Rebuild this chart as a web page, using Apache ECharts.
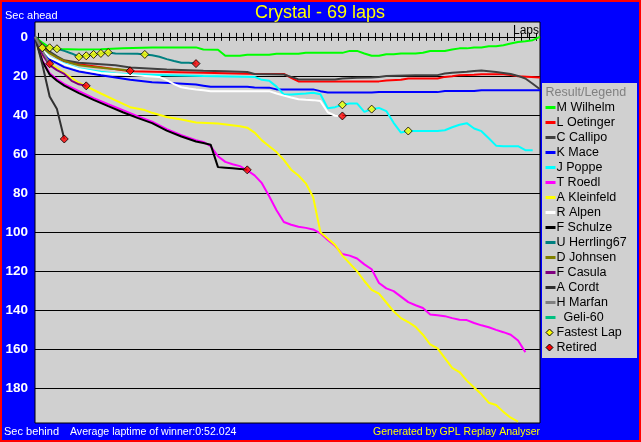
<!DOCTYPE html>
<html><head><meta charset="utf-8">
<script src="https://cdn.jsdelivr.net/npm/echarts@6/dist/echarts.min.js"></script>
<style>html,body{margin:0;padding:0;background:#0000ff;}#c{width:641px;height:442px;}</style>
</head><body><div id="c"></div>
<script>
const totalLaps = 69;
const yTicks = [0, 20, 40, 60, 80, 100, 120, 140, 160, 180];
const gridValues = [20, 40, 60, 80, 100, 120, 140, 160, 180];
const lapTicks = Array.from({length: 69}, (_, i) => i + 0.5);

const names = ['M Wilhelm','L Oetinger','C Callipo','K Mace','J Poppe','T Roedl','A Kleinfeld','R Alpen','F Schulze','U Herrling67','D Johnsen','F Casula','A Cordt','H Marfan','  Geli-60'];
const colors = ['#00ff00','#ff0000','#404040','#0000ff','#00ffff','#ff00ff','#ffff00','#ffffff','#000000','#008080','#808000','#800080','#303030','#808080','#00c080'];

const wilhelm = [[0,0],[1,3],[2,5.5],[3,6.2],[6,6.5],[9,6.3],[12,5.8],[16,5.5],[22,5.4],[23,6.5],[25,6.6],[26,9.7],[28,9.7],[29,9.2],[32,9.2],[33,8.7],[36,8.7],[37,8.2],[42,8.2],[43,7.2],[44,7.2],[45,8.5],[46,9.7],[47,9.7],[48,8.9],[49,8.9],[50,8.5],[52,8.5],[53,8.1],[54,7.2],[56,7.2],[57,6.5],[58,5.9],[59,5.9],[60,5.4],[61,5.4],[62,4.8],[63,4.8],[64,4.3],[65,3.4],[66,2.6],[67,2.2],[68,1.7],[69,0]];
const oetinger = [[0,0],[1,4.5],[2,8],[3,10.5],[4,12.5],[6,14],[9,15.5],[13,17.6],[18,18],[23,18.4],[29,18.9],[34,19],[35,21],[36,22.8],[47,22.8],[48,22.3],[50,22],[51,21.3],[55,21.3],[56,20.5],[57,20.2],[58,19.6],[60,19.4],[61,19.1],[64,19.1],[65,19.6],[66,20.2],[69,20.8]];
const callipo = [[0,0],[1,4],[2,7.5],[3,10],[4,12],[6,13.3],[11,14.5],[13,15.7],[18,16.7],[23,17.4],[26,17.6],[29,18],[30,19],[34,19.3],[35,20.5],[36,21.8],[41,21.8],[42,21.3],[44,21],[46,20.8],[47,20.5],[48,20.1],[52,19.6],[55,19.6],[56,18.8],[57,18.4],[59,17.9],[60,17.5],[61,17.2],[62,17.6],[63,18],[64,18.5],[65,19],[66,20],[67,21.3],[68,24],[69,26.8]];
const mace = [[0,0],[1,7],[2,11.5],[4,15.5],[6,17.7],[9,19.7],[11,20.8],[13,22],[16,23.2],[19,23.8],[22,24.4],[23,25],[24,25.6],[29,25.6],[30,25.9],[32,26],[33,26.9],[38,26.9],[39,27.8],[40,28.5],[46,28.5],[47,28.3],[55,28.3],[56,27.7],[60,27.7],[61,27.3],[69,27.3]];
const poppe = [[0,0],[1,6],[2,10.5],[4,13.6],[6,16.2],[9,17.9],[11,18.8],[13,19.1],[18,19.6],[23,20.1],[30,20.5],[31,22],[32,22.5],[33,25.5],[34,29.5],[35,29.5],[37,29],[38,28.6],[39,29.4],[40,36.5],[41,36],[42,34.8],[43,34.1],[44,34.1],[45,38.4],[46,37],[47,36.4],[48,38],[49,44],[50,49],[51,48.2],[55,48.2],[56,47.8],[57,46.3],[58,45],[59,44.2],[60,46.9],[61,48.3],[62,51.9],[63,55.7],[64,56],[66,56],[67,58],[68,58]];
const roedl = [[0,0],[1,12],[2,18.6],[3,21.7],[4,24.2],[6,27.8],[8,31.4],[10,34.5],[12,37.5],[14,40.6],[16,43.4],[18,47.3],[20,50.4],[22,52.9],[23,53.8],[24,56],[25,61.1],[26,64],[27,65.2],[28,66.2],[29,68.3],[30,70.9],[31,74.9],[32,81.6],[33,88.8],[34,94.8],[35,96.2],[36,97.2],[37,97.8],[38,98.6],[39,100.6],[40,104],[41,107],[42,111.2],[43,112],[44,113.5],[45,116.5],[46,119],[47,126],[48,128.8],[49,130.2],[50,133],[51,135.8],[52,137.4],[53,138.8],[54,142.1],[55,142.5],[56,143],[57,144],[58,144.8],[59,145],[60,146.5],[61,147.7],[62,148.7],[63,150],[64,151.2],[65,152.5],[66,155.5],[67,161.4]];
const kleinfeld = [[0,0],[1,9.5],[2,13.5],[4,18.5],[6,23.5],[9,29],[11,32.5],[13,36],[15,37.5],[16,38.9],[18,41],[20,42.3],[22,43.9],[25,44.4],[28,45.8],[29,46.5],[30,49],[31,53],[32,56],[33,59],[34,63],[35,68],[36,71],[37,75],[38,82],[39,100],[40,103.3],[41,106.5],[42,112],[43,116],[44,120],[45,125],[46,129.5],[47,131.5],[48,136],[49,140.5],[50,144],[51,146],[52,148.5],[53,152.5],[54,157.5],[55,159.5],[56,164.5],[57,169.5],[58,171.6],[59,176],[60,179.5],[61,183],[62,187.3],[63,188.5],[64,192],[65,195],[66,197]];
const alpen = [[0,0],[1,6.5],[2,10.5],[4,14],[6,16.5],[9,18.5],[13,19.5],[17,20.5],[18,22.2],[19,24.2],[20,25.8],[21,26.5],[22,27],[23,27.3],[24,27.8],[32,27.8],[33,29],[34,30.1],[35,31.1],[36,31.9],[37,32.2],[38,32.4],[39,32.9],[40,38.6],[41,40.4],[42,40.5]];
const schulze = [[0,0],[1,12.5],[2,19.3],[3,22.5],[4,25],[6,28.8],[8,32.3],[10,35.5],[12,38.6],[14,41.5],[16,44.2],[18,48],[20,51],[22,53.6],[23,54.3],[24,55.2],[25,66.7],[26,67],[27,67.3],[28,67.6],[29,68.1]];
const herrling = [[0,0],[1,5.6],[2,5.6],[3,6.1],[4,7.2],[5,8.5],[6,10.2],[7,9.7],[8,9],[9,8.5],[10,8],[11,8.5],[14,8.7],[15,9],[16,9.4],[17,10.2],[18,11.4],[19,12.4],[20,13.3],[21,13.3],[22,13.7]];
const johnsen = [[0,0],[1,5.5],[2,8.5],[3,10.5],[4,12.3],[5,13.5],[6,14.5],[8,15.5],[10,16.2],[12,16.8],[13,17.4]];
const casula = [[0,0],[1,9],[2,14.5],[3,17],[4,19],[5,22.5],[6,24.3],[7,25.1]];
const cordt = [[0,0],[1,14],[2,30.5],[3,37],[4,52.3]];
const marfan = [[0,0],[1,7],[2,13.8]];
const geli = [];
const fastestLaps = [[1,5.6],[2,5.6],[3,6.1],[6,10.2],[7,9.7],[8,9.0],[9,8.5],[10,8.0],[15,9.0],[42,34.8],[46,37.0],[51,48.2]];
const retired = [[2,13.8],[4,52.3],[7,25.1],[13,17.4],[22,13.7],[29,68.1],[42,40.5]];

const driverData = [wilhelm, oetinger, callipo, mace, poppe, roedl, kleinfeld, alpen, schulze, herrling, johnsen, casula, cordt, marfan, geli];
const FONT = '"Liberation Sans", Arial, sans-serif';

const chart = echarts.init(document.getElementById('c'), null, {renderer: 'canvas'});

const series = [];
series.push({
  name: '_grid', type: 'line', data: [], silent: true, z: 1,
  markLine: {
    silent: true, symbol: 'none', z: 1, animation: false,
    label: {show: false},
    lineStyle: {color: '#000', width: 1, type: 'solid'},
    emphasis: {disabled: true},
    data: gridValues.map(v => ({yAxis: v}))
  }
});
names.forEach((n, i) => {
  series.push({
    name: n, type: 'line', data: driverData[i], color: colors[i],
    showSymbol: false, symbol: 'none', z: 2 + i, animation: false,
    lineStyle: {width: 2, color: colors[i]},
    emphasis: {disabled: true}
  });
});
series.push({
  name: 'Fastest Lap', type: 'scatter', data: fastestLaps, symbol: 'diamond', symbolSize: 8, z: 30,
  itemStyle: {color: '#ffff00', borderColor: '#000', borderWidth: 1}, animation: false
});
series.push({
  name: 'Retired', type: 'scatter', data: retired, symbol: 'diamond', symbolSize: 8, z: 30,
  itemStyle: {color: '#ff0000', borderColor: '#000', borderWidth: 1}, animation: false
});

// hand-drawn legend box (as in the original program's "Result/Legend" panel)
const LEG_X = 545.5, LEG_Y0 = 107.5, LEG_STEP = 15, LEG_TEXT_X = 556.5;
const LEG_FONT = '12.5px ' + FONT;
const legendGraphics = [];
names.forEach((n, i) => {
  const y = LEG_Y0 + i * LEG_STEP;
  legendGraphics.push({type: 'rect', z: 21, shape: {x: LEG_X, y: y - 1.5, width: 10, height: 3}, style: {fill: colors[i]}});
  legendGraphics.push({type: 'text', z: 21, x: LEG_TEXT_X, y: y, style: {text: n, fill: '#000', font: LEG_FONT, textAlign: 'left', textVerticalAlign: 'middle'}});
});
[['Fastest Lap', '#ffff00'], ['Retired', '#ff0000']].forEach((d, j) => {
  const y = LEG_Y0 + (names.length + j) * LEG_STEP;
  const cx = 549.5;
  legendGraphics.push({type: 'polygon', z: 21, shape: {points: [[cx, y - 3.5], [cx + 3.5, y], [cx, y + 3.5], [cx - 3.5, y]]}, style: {fill: d[1], stroke: '#000', lineWidth: 1}});
  legendGraphics.push({type: 'text', z: 21, x: LEG_TEXT_X, y: y, style: {text: d[0], fill: '#000', font: LEG_FONT, textAlign: 'left', textVerticalAlign: 'middle'}});
});

const xAxisCommon = {
  type: 'value', min: 0, max: totalLaps,
  axisLine: {show: true, onZero: true, onZeroAxisIndex: 0, lineStyle: {color: '#000', width: 1}},
  axisTick: {show: true, customValues: lapTicks, length: 4, lineStyle: {color: '#000', width: 1}},
  axisLabel: {show: false},
  splitLine: {show: false}
};

chart.setOption({
  backgroundColor: '#0000ff',
  animation: false,
  textStyle: {fontFamily: FONT},
  grid: {left: 35, top: 22, right: 101, bottom: 19, show: true, backgroundColor: '#d0d0d0', borderColor: '#000', borderWidth: 1, containLabel: false},
  xAxis: [
    Object.assign({}, xAxisCommon, {position: 'bottom'}),
    Object.assign({}, xAxisCommon, {position: 'top'})
  ],
  yAxis: {
    type: 'value', inverse: true, min: -7.6, max: 197.7,
    axisLine: {show: false}, axisTick: {show: false}, splitLine: {show: false},
    axisLabel: {customValues: yTicks, color: '#fff', fontWeight: 'bold', fontSize: 13.5, fontFamily: FONT, margin: 7}
  },
  graphic: [
    {type: 'rect', z: 0, shape: {x: 542, y: 83, width: 95, height: 275}, style: {fill: '#d0d0d0'}},
    {type: 'text', z: 20, x: 320, y: 13, style: {text: 'Crystal - 69 laps', fill: '#ffff00', font: '18px ' + FONT, textAlign: 'center', textVerticalAlign: 'middle'}},
    {type: 'text', z: 20, x: 5, y: 15.5, style: {text: 'Sec ahead', fill: '#ffffff', font: '11px ' + FONT, textAlign: 'left', textVerticalAlign: 'middle'}},
    {type: 'text', z: 20, x: 539, y: 31, style: {text: 'Laps', fill: '#000000', font: '12px ' + FONT, textAlign: 'right', textVerticalAlign: 'middle'}},
    {type: 'text', z: 21, x: 545.5, y: 93, style: {text: 'Result/Legend', fill: '#808080', font: LEG_FONT, textAlign: 'left', textVerticalAlign: 'middle'}},
    {type: 'text', z: 20, x: 4, y: 432, style: {text: 'Sec behind', fill: '#ffffff', font: '11px ' + FONT, textAlign: 'left', textVerticalAlign: 'middle'}},
    {type: 'text', z: 20, x: 70, y: 432, style: {text: 'Average laptime of winner:0:52.024', fill: '#ffffff', font: '10.6px ' + FONT, textAlign: 'left', textVerticalAlign: 'middle'}},
    {type: 'text', z: 20, x: 540, y: 432, style: {text: 'Generated by GPL Replay Analyser', fill: '#ffff00', font: '10.5px ' + FONT, textAlign: 'right', textVerticalAlign: 'middle'}},
    {type: 'rect', z: 100, shape: {x: 0, y: 0, width: 641, height: 442}, style: {fill: 'none', stroke: '#ff0000', lineWidth: 4}}
  ].concat(legendGraphics),
  series: series
});
</script>
</body></html>
